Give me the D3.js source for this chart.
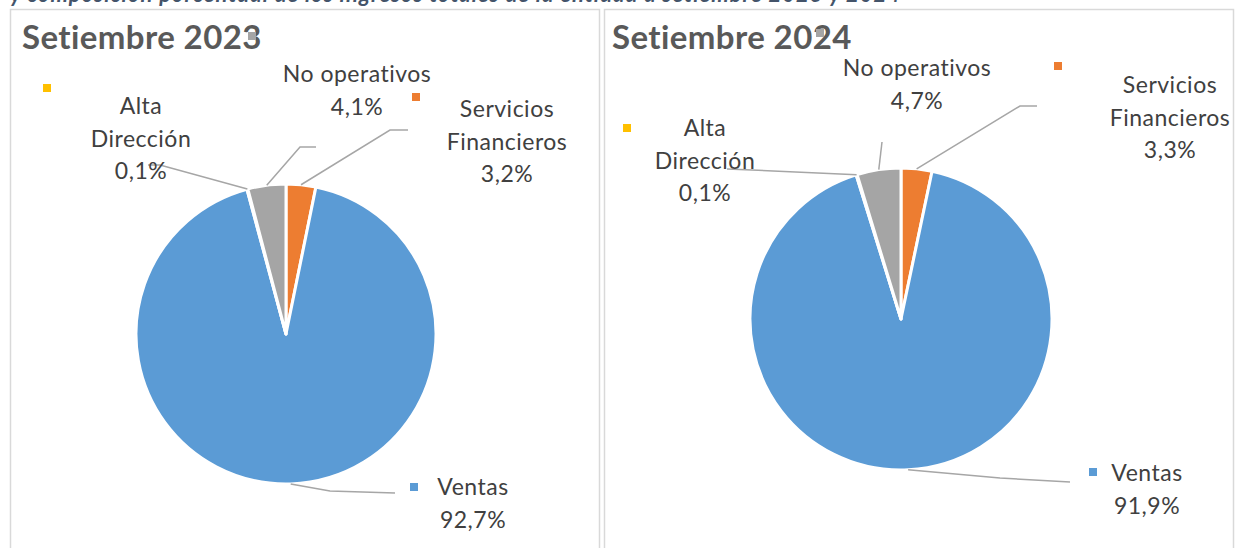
<!DOCTYPE html>
<html lang="es">
<head>
<meta charset="utf-8">
<title>Composición de ingresos</title>
<script src="https://cdn.jsdelivr.net/npm/d3@7"></script>
<style>
  html, body { margin: 0; padding: 0; background: #fff; }
  svg { display: block; }
</style>
</head>
<body>
<div id="chart"></div>
<script>
// --- DATA ---
const SEGMENTS = ['Servicios Financieros', 'Ventas', 'Alta Dirección', 'No operativos'];
const SHARE_2023 = [3.2, 92.7, 0.1, 4.1];
const SHARE_2024 = [3.3, 91.9, 0.1, 4.7];
const PANEL_TITLES = ['Setiembre 2023', 'Setiembre 2024'];
const CAPTION = 'y composición porcentual de los ingresos totales de la entidad a setiembre 2023 y 2024';

// --- CONFIG ---
const width = 1235;
const height = 548;

const colorScale = d3.scaleOrdinal()
  .domain(SEGMENTS)
  .range(['#ED7D31', '#5B9BD5', '#FFC000', '#A5A5A5']);

// Spanish number format: comma as decimal separator
const esLocale = d3.formatLocale({decimal: ',', thousands: '.', grouping: [3], currency: ['', '€']});
const formatPct = v => esLocale.format('.1f')(v) + '%';

// label lines for each segment
const LABEL_LINES = {
  'Servicios Financieros': ['Servicios', 'Financieros'],
  'Ventas': ['Ventas'],
  'Alta Dirección': ['Alta', 'Dirección'],
  'No operativos': ['No operativos']
};

// layout for each panel (positions only, values come from the arrays above)
const PANELS = [
  {
    box: [10, 9, 589, 560],
    titleX: 22,
    center: [286, 334], r: 150,
    labels: {
      'Servicios Financieros': {cx: 507, y: 109, key: [416, 97], leader: [[390, 130], [408, 130]]},
      'Ventas': {cx: 473, y: 487, key: [414, 487], leader: [[330, 491], [395, 493]]},
      'Alta Dirección': {cx: 141, y: 106, key: [47, 88], leader: [[160, 165], [148, 165]]},
      'No operativos': {cx: 357, y: 74, key: [252, 36], leader: [[300, 147], [316, 147]]}
    }
  },
  {
    box: [604, 9, 629, 560],
    titleX: 612,
    center: [901, 319], r: 151,
    labels: {
      'Servicios Financieros': {cx: 1170, y: 85, key: [1058, 66], leader: [[1020, 106], [1037, 106]]},
      'Ventas': {cx: 1147, y: 473, key: [1093, 472], leader: [[1000, 478], [1070, 482]]},
      'Alta Dirección': {cx: 705, y: 128, key: [627, 128], leader: [[727, 169]]},
      'No operativos': {cx: 917, y: 68, key: [820, 33], leader: [[882, 142]]}
    }
  }
];

const LINE_HEIGHT = 32.5;
const FONT = 'Lato, "Open Sans", sans-serif';

// --- SVG SETUP ---
const svg = d3.select('#chart')
  .append('svg')
  .attr('width', width)
  .attr('height', height)
  .attr('viewBox', `0 0 ${width} ${height}`);

// caption of the figure, cut by the top edge as in the source page
svg.append('text')
  .attr('x', 10)
  .attr('y', 2)
  .style('font-family', FONT)
  .style('font-size', '22px')
  .style('font-style', 'italic')
  .style('font-weight', 700)
  .style('letter-spacing', '1px')
  .style('fill', '#44546A')
  .text(CAPTION);

// --- DRAWING ---
function drawPanel(panel, title, shares) {
  const g = svg.append('g');
  const data = SEGMENTS.map((name, i) => ({name, value: shares[i]}));

  // panel frame
  g.append('rect')
    .attr('x', panel.box[0] + 0.5)
    .attr('y', panel.box[1] + 0.5)
    .attr('width', panel.box[2])
    .attr('height', panel.box[3])
    .style('fill', '#fff')
    .style('stroke', '#D9D9D9')
    .style('stroke-width', 1.5);

  // title
  g.append('text')
    .attr('x', panel.titleX)
    .attr('y', 49)
    .style('font-family', FONT)
    .style('font-size', '33px')
    .style('font-weight', 700)
    .style('letter-spacing', '0.4px')
    .style('fill', '#595959')
    .text(title);

  const pie = d3.pie()
    .sort(null)
    .value(d => d.value);

  const arc = d3.arc()
    .innerRadius(0)
    .outerRadius(panel.r);

  const edge = d3.arc()
    .innerRadius(panel.r)
    .outerRadius(panel.r);

  const arcs = pie(data);
  const pieG = g.append('g')
    .attr('transform', `translate(${panel.center[0]},${panel.center[1]})`);

  pieG.selectAll('path')
    .data(arcs)
    .enter()
    .append('path')
    .attr('d', arc)
    .style('fill', d => colorScale(d.data.name))
    .style('stroke', '#fff')
    .style('stroke-width', 3)
    .style('stroke-linejoin', 'round');

  // leader lines from the slice edge to the label
  const line = d3.line();
  g.selectAll('.leader')
    .data(arcs)
    .enter()
    .append('path')
    .attr('class', 'leader')
    .attr('d', d => {
      const [ex, ey] = edge.centroid(d);
      const start = [panel.center[0] + ex, panel.center[1] + ey];
      return line([start, ...panel.labels[d.data.name].leader]);
    })
    .style('fill', 'none')
    .style('stroke', '#A6A6A6')
    .style('stroke-width', 1.5);

  // labels with legend key
  arcs.forEach(d => {
    const lab = panel.labels[d.data.name];
    g.append('rect')
      .attr('x', lab.key[0] - 4)
      .attr('y', lab.key[1] - 4)
      .attr('width', 8)
      .attr('height', 8)
      .style('fill', colorScale(d.data.name));

    const lines = LABEL_LINES[d.data.name].concat([formatPct(d.data.value)]);
    const t = g.append('text')
      .attr('text-anchor', 'middle')
      .style('font-family', FONT)
      .style('font-size', '23px')
      .style('letter-spacing', '0.5px')
      .style('fill', '#404040');
    lines.forEach((s, i) => {
      t.append('tspan')
        .attr('x', lab.cx)
        .attr('y', lab.y + i * LINE_HEIGHT)
        .attr('dy', '0.35em')
        .text(s);
    });
  });
}

drawPanel(PANELS[0], PANEL_TITLES[0], SHARE_2023);
drawPanel(PANELS[1], PANEL_TITLES[1], SHARE_2024);
</script>
</body>
</html>
